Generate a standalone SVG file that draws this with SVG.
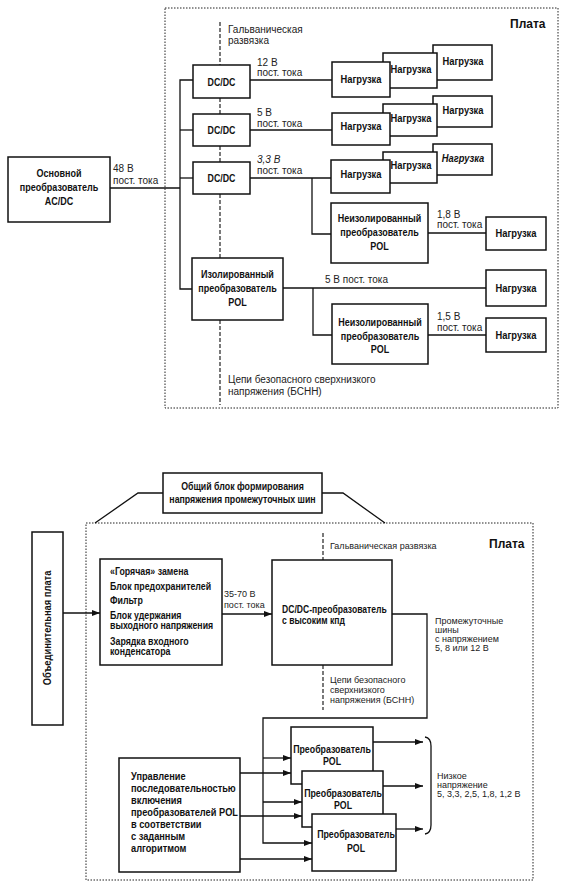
<svg xmlns="http://www.w3.org/2000/svg" width="567" height="888" viewBox="0 0 567 888">
<style>
.box{fill:#fff;stroke:#111;stroke-width:1.5}
.dot{fill:none;stroke:#222;stroke-width:1;stroke-dasharray:1.5 1.5}
.dash{fill:none;stroke:#222;stroke-width:1.2;stroke-dasharray:4 2}
.w{fill:none;stroke:#111;stroke-width:1.3}
.b{font-family:"Liberation Sans",Arial,sans-serif;font-weight:bold;font-size:11px;fill:#111}
.bs{font-family:"Liberation Sans",Arial,sans-serif;font-weight:bold;font-size:10px;fill:#111}
.bq{font-family:"Liberation Sans",Arial,sans-serif;font-weight:bold;font-size:10.5px;fill:#111}
.r{font-family:"Liberation Sans",Arial,sans-serif;font-size:10px;fill:#222}
.rs{font-family:"Liberation Sans",Arial,sans-serif;font-size:9px;fill:#222}
.t{font-family:"Liberation Sans",Arial,sans-serif;font-weight:bold;font-size:12px;fill:#111}
.m{text-anchor:middle}
</style>
<defs>
<marker id="ah" markerUnits="userSpaceOnUse" markerWidth="8" markerHeight="6" refX="8" refY="3" orient="auto">
<path d="M0,0 L8,3 L0,6 z" fill="#111"/>
</marker>
</defs>

<!-- TOP DIAGRAM -->
<g id="board1">
<rect class="dot" x="165" y="8" width="393" height="400"/>
<text class="t" x="510" y="28">Плата</text>
</g>

<g id="connectors1">
<path class="w" d="M110 188 H180"/>
<path class="w" d="M193 80 H180 V289 H192"/>
<path class="w" d="M180 130 H193"/>
<path class="w" d="M180 178 H193"/>
<path class="w" d="M250 80 H332"/>
<path class="w" d="M250 130 H332"/>
<path class="w" d="M250 178 H331"/>
<path class="w" d="M312 178 V234 H331"/>
<path class="w" d="M428 233 H486"/>
<path class="w" d="M283 288 H486"/>
<path class="w" d="M313 288 V335 H332"/>
<path class="w" d="M428 335 H486"/>
<path class="dash" d="M220 22 V65 M220 98 V114 M220 146 V162 M220 194 V258 M220 320 V405"/>
<text class="r" x="113" y="172">48 В</text>
<text class="r" x="113" y="184">пост. тока</text>
<text class="r" x="228" y="33">Гальваническая</text>
<text class="r" x="228" y="44">развязка</text>
<text class="r" x="257" y="66">12 В</text>
<text class="r" x="257" y="76">пост. тока</text>
<text class="r" x="257" y="116">5 В</text>
<text class="r" x="257" y="127">пост. тока</text>
<text class="r" x="257" y="163" font-style="italic">3,3 В</text>
<text class="r" x="257" y="174">пост. тока</text>
<text class="r" x="437" y="218">1,8 В</text>
<text class="r" x="437" y="228">пост. тока</text>
<text class="r" x="325" y="283">5 В пост. тока</text>
<text class="r" x="437" y="320">1,5 В</text>
<text class="r" x="437" y="331">пост. тока</text>
<text class="r" x="228" y="383">Цепи безопасного сверхнизкого</text>
<text class="r" x="228" y="395">напряжения (БСНН)</text>
</g>

<g id="acdc">
<rect class="box" x="8" y="157" width="102" height="65"/>
<text class="b m" transform="matrix(.82 0 0 1 59 177)">Основной</text>
<text class="b m" transform="matrix(.82 0 0 1 59 191)">преобразователь</text>
<text class="b m" transform="matrix(.82 0 0 1 59 205)">AC/DC</text>
</g>
<g id="dcdc1"><rect class="box" x="193" y="65" width="57" height="33"/><text class="b m" transform="matrix(.8 0 0 1 221.5 86)">DC/DC</text></g>
<g id="dcdc2"><rect class="box" x="193" y="114" width="57" height="32"/><text class="b m" transform="matrix(.8 0 0 1 221.5 134)">DC/DC</text></g>
<g id="dcdc3"><rect class="box" x="193" y="162" width="57" height="32"/><text class="b m" transform="matrix(.8 0 0 1 221.5 182)">DC/DC</text></g>

<g id="loads12">
<rect class="box" x="433" y="45" width="59" height="35"/><text class="b m" transform="matrix(.85 0 0 1 463 65)">Нагрузка</text>
<rect class="box" x="383" y="53" width="54" height="35"/><text class="b m" transform="matrix(.85 0 0 1 411 73)">Нагрузка</text>
<rect class="box" x="332" y="62" width="58" height="35"/><text class="b m" transform="matrix(.85 0 0 1 361 83)">Нагрузка</text>
</g>
<g id="loads5">
<rect class="box" x="433" y="96" width="59" height="31"/><text class="b m" transform="matrix(.85 0 0 1 463 114)">Нагрузка</text>
<rect class="box" x="383" y="104" width="54" height="32"/><text class="b m" transform="matrix(.85 0 0 1 411 122)">Нагрузка</text>
<rect class="box" x="332" y="113" width="58" height="32"/><text class="b m" transform="matrix(.85 0 0 1 361 130)">Нагрузка</text>
</g>
<g id="loads33">
<rect class="box" x="433" y="144" width="59" height="31"/><text class="b m" font-style="italic" transform="matrix(.85 0 0 1 463 162)">Нагрузка</text>
<rect class="box" x="383" y="152" width="54" height="31"/><text class="b m" transform="matrix(.85 0 0 1 411 169)">Нагрузка</text>
<rect class="box" x="331" y="160" width="59" height="33"/><text class="b m" transform="matrix(.85 0 0 1 361 178)">Нагрузка</text>
</g>
<g id="pol18">
<rect class="box" x="331" y="203" width="97" height="60"/>
<text class="b m" transform="matrix(.82 0 0 1 379.5 222)">Неизолированный</text>
<text class="b m" transform="matrix(.82 0 0 1 379.5 236)">преобразователь</text>
<text class="b m" transform="matrix(.82 0 0 1 379.5 250)">POL</text>
</g>
<g id="load18"><rect class="box" x="486" y="217" width="60" height="33"/><text class="b m" transform="matrix(.85 0 0 1 516 237)">Нагрузка</text></g>
<g id="isopol">
<rect class="box" x="192" y="258" width="91" height="62"/>
<text class="b m" transform="matrix(.82 0 0 1 237.5 278)">Изолированный</text>
<text class="b m" transform="matrix(.82 0 0 1 237.5 292)">преобразователь</text>
<text class="b m" transform="matrix(.82 0 0 1 237.5 306)">POL</text>
</g>
<g id="load5b"><rect class="box" x="486" y="270" width="60" height="36"/><text class="b m" transform="matrix(.85 0 0 1 516 292)">Нагрузка</text></g>
<g id="pol15">
<rect class="box" x="332" y="304" width="96" height="60"/>
<text class="b m" transform="matrix(.82 0 0 1 380 326)">Неизолированный</text>
<text class="b m" transform="matrix(.82 0 0 1 380 340)">преобразователь</text>
<text class="b m" transform="matrix(.82 0 0 1 380 353)">POL</text>
</g>
<g id="load15"><rect class="box" x="486" y="318" width="60" height="34"/><text class="b m" transform="matrix(.85 0 0 1 516 339)">Нагрузка</text></g>

<!-- BOTTOM DIAGRAM -->
<g id="board2">
<rect class="dot" x="86" y="523" width="447" height="357"/>
<text class="t" x="489" y="548">Плата</text>
</g>

<g id="connectors2">
<path class="w" d="M163 493 H138 L95 523"/>
<path class="w" d="M322 493 H343 L385 523"/>
<path class="w" d="M63 613 H100" marker-end="url(#ah)"/>
<path class="w" d="M222 614 H272" marker-end="url(#ah)"/>
<path class="w" d="M392 614 H427 V718 H263 V843 H312" marker-end="url(#ah)"/>
<path class="w" d="M263 758 H291" marker-end="url(#ah)"/>
<path class="w" d="M263 802 H302" marker-end="url(#ah)"/>
<path class="w" d="M240 773 H291" marker-end="url(#ah)"/>
<path class="w" d="M240 816 H302" marker-end="url(#ah)"/>
<path class="w" d="M240 859 H312" marker-end="url(#ah)"/>
<path class="w" d="M373 742 H423" marker-end="url(#ah)"/>
<path class="w" d="M383 786 H423" marker-end="url(#ah)"/>
<path class="w" d="M396 829 H423" marker-end="url(#ah)"/>
<path class="w" d="M425 737 Q431 738 431 746 V825 Q431 833 425 834"/>
<path class="dash" d="M323 533 V560 M323 665 V710"/>
<text class="rs" x="224" y="597">35-70 В</text>
<text class="rs" x="224" y="608">пост. тока</text>
<text class="rs" x="330" y="549">Гальваническая развязка</text>
<text class="rs" x="330" y="683">Цепи безопасного</text>
<text class="rs" x="330" y="693">сверхнизкого</text>
<text class="rs" x="330" y="703">напряжения (БСНН)</text>
<text class="rs" x="435" y="624">Промежуточные</text>
<text class="rs" x="435" y="633">шины</text>
<text class="rs" x="435" y="642">с напряжением</text>
<text class="rs" x="435" y="651">5, 8 или 12 В</text>
<text class="rs" x="437" y="779">Низкое</text>
<text class="rs" x="437" y="788">напряжение</text>
<text class="rs" x="437" y="797">5, 3,3, 2,5, 1,8, 1,2 В</text>
</g>

<g id="commonblock">
<rect class="box" x="163" y="473" width="159" height="40"/>
<text class="b m" transform="matrix(.8 0 0 1 242.5 490)">Общий блок формирования</text>
<text class="b m" transform="matrix(.8 0 0 1 242.5 503)">напряжения промежуточных шин</text>
</g>
<g id="backplane">
<rect class="box" x="32" y="532" width="31" height="193"/>
<text class="b m" transform="matrix(0 -.85 1 0 51 628)">Объединительная плата</text>
</g>
<g id="inputblock">
<rect class="box" x="100" y="559" width="122" height="106"/>
<text class="bs" transform="matrix(.88 0 0 1 110 575)">«Горячая» замена</text>
<text class="bs" transform="matrix(.88 0 0 1 110 590)">Блок предохранителей</text>
<text class="bs" transform="matrix(.88 0 0 1 110 604)">Фильтр</text>
<text class="bs" transform="matrix(.88 0 0 1 110 619)">Блок удержания</text>
<text class="bs" transform="matrix(.88 0 0 1 110 629)">выходного напряжения</text>
<text class="bs" transform="matrix(.88 0 0 1 110 645)">Зарядка входного</text>
<text class="bs" transform="matrix(.88 0 0 1 110 655)">конденсатора</text>
</g>
<g id="dcdcmain">
<rect class="box" x="272" y="560" width="120" height="105"/>
<text class="b" transform="matrix(.78 0 0 1 282 613)">DC/DC-преобразователь</text>
<text class="b" transform="matrix(.78 0 0 1 282 624)">с высоким кпд</text>
</g>
<g id="sequencer">
<rect class="box" x="119" y="758" width="121" height="114"/>
<text class="bq" transform="matrix(.88 0 0 1 131 780)">Управление</text>
<text class="bq" transform="matrix(.88 0 0 1 131 792)">последовательностью</text>
<text class="bq" transform="matrix(.88 0 0 1 131 804)">включения</text>
<text class="bq" transform="matrix(.88 0 0 1 131 816)">преобразователей POL</text>
<text class="bq" transform="matrix(.88 0 0 1 131 828)">в соответствии</text>
<text class="bq" transform="matrix(.88 0 0 1 131 840)">с заданным</text>
<text class="bq" transform="matrix(.88 0 0 1 131 852)">алгоритмом</text>
</g>
<g id="pol1">
<rect class="box" x="291" y="727" width="82" height="57"/>
<text class="b m" transform="matrix(.8 0 0 1 332 753)">Преобразователь</text>
<text class="b m" transform="matrix(.8 0 0 1 332 765)">POL</text>
</g>
<g id="pol2">
<rect class="box" x="302" y="771" width="81" height="56"/>
<text class="b m" transform="matrix(.8 0 0 1 343 797)">Преобразователь</text>
<text class="b m" transform="matrix(.8 0 0 1 343 809)">POL</text>
</g>
<g id="pol3">
<rect class="box" x="312" y="814" width="84" height="57"/>
<text class="b m" transform="matrix(.8 0 0 1 356 838)">Преобразователь</text>
<text class="b m" transform="matrix(.8 0 0 1 356 852)">POL</text>
</g>
</svg>
